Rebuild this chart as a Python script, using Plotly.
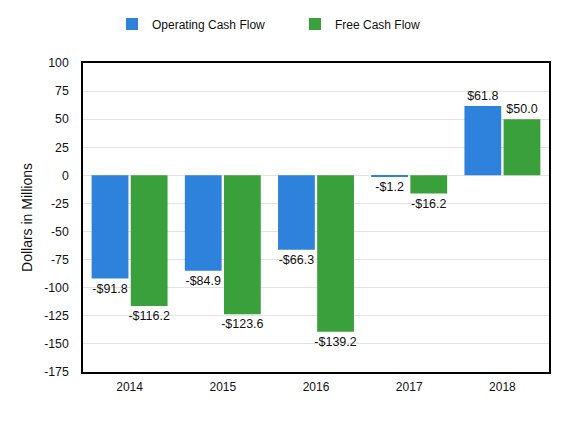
import plotly.graph_objects as go

years = ["2014", "2015", "2016", "2017", "2018"]
operating_cf = [-91.8, -84.9, -66.3, -1.2, 61.8]
free_cf = [-116.2, -123.6, -139.2, -16.2, 50.0]
tick_vals = [100, 75, 50, 25, 0, -25, -50, -75, -100, -125, -150, -175]
tick_text = [str(v) for v in tick_vals]

def fmt(v):
    return ("-$" if v < 0 else "$") + f"{abs(v):.1f}"

font = "Liberation Sans, Arial, sans-serif"

# the page body has an 8px default margin, so the figure is sized 580x417
W, H = 580, 417

fig = go.Figure()
fig.add_trace(go.Bar(
    name="Operating Cash Flow", x=years, y=operating_cf,
    marker=dict(color="#2e82dc", line=dict(width=0)),
    text=[fmt(v) for v in operating_cf], textposition="outside",
    constraintext="none",
    textfont=dict(size=12.5, color="#111"), cliponaxis=False,
))
fig.add_trace(go.Bar(
    name="Free Cash Flow", x=years, y=free_cf,
    marker=dict(color="#3aa03c", line=dict(width=0)),
    text=[fmt(v) for v in free_cf], textposition="outside",
    constraintext="none",
    textfont=dict(size=12.5, color="#111"), cliponaxis=False,
))

fig.update_layout(
    width=W, height=H,
    margin=dict(l=75, r=39, t=55, b=53, autoexpand=False),
    paper_bgcolor="white", plot_bgcolor="white",
    font=dict(family=font, size=12, color="#111"),
    barmode="group", bargap=0.16, bargroupgap=0.06,
    legend=dict(orientation="h", xref="container", yref="container",
                x=104 / W, xanchor="left", y=1 - 16 / H, yanchor="middle",
                font=dict(size=12), entrywidth=138, traceorder="normal"),
    showlegend=True,
)
fig.update_xaxes(showline=True, linecolor="black", linewidth=1.5, mirror=True,
                 ticks="", tickfont=dict(size=12), automargin=False,
                 ticklabelstandoff=3)
fig.update_yaxes(range=[-175, 100], tickvals=tick_vals, ticktext=tick_text,
                 showgrid=True, gridcolor="#e3e3e3", gridwidth=1, zeroline=False,
                 showline=True, linecolor="black", linewidth=1.5, mirror=True,
                 ticks="", tickfont=dict(size=12.3), automargin=False,
                 ticklabelstandoff=10,
                 title=dict(text="Dollars in Millions", font=dict(size=14), standoff=8))

fig.write_html("out.html")
